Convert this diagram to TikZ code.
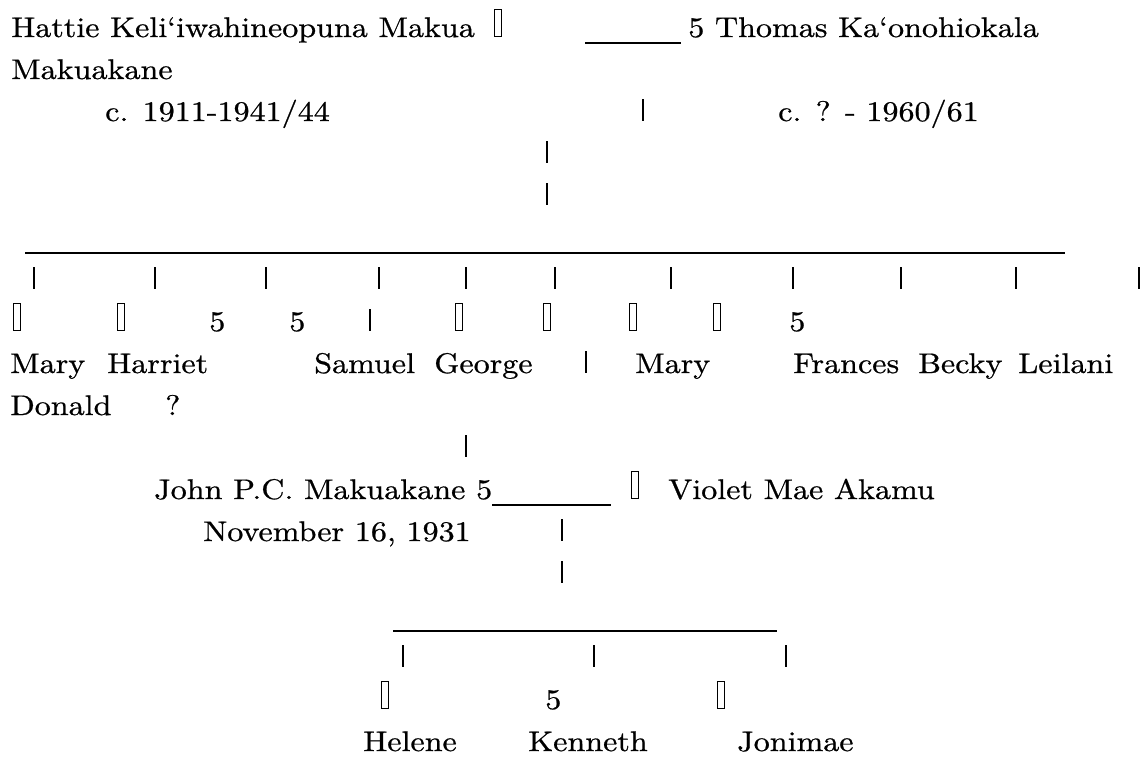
\documentclass[tikz,border=0pt]{standalone}
\usepackage{fontspec}
\setmainfont{lmroman10-regular}[Extension=.otf,FakeStretch=1.13,FakeBold=0.7]
\usepackage{tikz}

\tikzset{
  txt/.style={anchor=base west, inner sep=0pt, font=\fontsize{21.3}{25}\selectfont},
  nochar/.style={draw, line width=0.8pt, anchor=south, inner sep=0pt, minimum width=5.5pt, minimum height=20pt},
  bar/.style={line width=0.8pt},
  rule/.style={line width=1.4pt}
}

\begin{document}
\begin{tikzpicture}[x=0.75pt,y=-0.75pt]
      \useasboundingbox (0,0) rectangle (1145,761);

      % Parents
      \node[txt] (hattie) at (11,37) {Hattie Keli‘iwahineopuna Makua};
      \node[nochar] (hattiesym) at (498,37) {};
      \node[txt] (thomas) at (688,37) {5 Thomas Ka‘onohiokala};
      \node[txt] (makuakane) at (11,79) {Makuakane};
      \node[txt] (hattiedates) at (105,121) {c. 1911-1941/44};
      \node[txt] (thomasdates) at (778,121) {c. ? - 1960/61};
      \draw[rule] (585,43) -- (681,43);
      \draw[bar] (643,99) -- (643,121);
      \draw[bar] (547,141) -- (547,163);
      \draw[bar] (547,183) -- (547,205);

      % Children line
      \draw[rule] (25,253) -- (1065,253);
      \draw[bar] (34,267) -- (34,289);
      \draw[bar] (155,267) -- (155,289);
      \draw[bar] (266,267) -- (266,289);
      \draw[bar] (379,267) -- (379,289);
      \draw[bar] (466,267) -- (466,289);
      \draw[bar] (555,267) -- (555,289);
      \draw[bar] (671,267) -- (671,289);
      \draw[bar] (793,267) -- (793,289);
      \draw[bar] (901,267) -- (901,289);
      \draw[bar] (1016,267) -- (1016,289);
      \draw[bar] (1139,267) -- (1139,289);

      % Children symbols
      \node[nochar] (s1) at (17,331) {};
      \node[nochar] (s2) at (121,331) {};
      \node[txt] (s3) at (209,331) {5};
      \node[txt] (s4) at (289,331) {5};
      \draw[bar] (370,309) -- (370,331);
      \node[nochar] (s5) at (459,331) {};
      \node[nochar] (s6) at (547,331) {};
      \node[nochar] (s7) at (633,331) {};
      \node[nochar] (s8) at (717,331) {};
      \node[txt] (s9) at (789,331) {5};

      % Children names
      \node[txt] (mary) at (10,373) {Mary};
      \node[txt] (harriet) at (107,373) {Harriet};
      \node[txt] (samuel) at (314,373) {Samuel};
      \node[txt] (george) at (434,373) {George};
      \draw[bar] (586,351) -- (586,373);
      \node[txt] (mary2) at (635,373) {Mary};
      \node[txt] (frances) at (793,373) {Frances};
      \node[txt] (becky) at (918,373) {Becky};
      \node[txt] (leilani) at (1018,373) {Leilani};
      \node[txt] (donald) at (10,415) {Donald};
      \node[txt] (unknown) at (165,415) {?};
      \draw[bar] (466,435) -- (466,457);

      % John and Violet
      \node[txt] (john) at (154,499) {John P.C. Makuakane 5};
      \draw[rule] (john.base east) ++(0,6) -- (611,505);
      \node[nochar] (violetsym) at (635,499) {};
      \node[txt] (violet) at (668,499) {Violet Mae Akamu};
      \node[txt] (born) at (203,541) {November 16, 1931};
      \draw[bar] (562,519) -- (562,541);
      \draw[bar] (562,561) -- (562,583);

      % Grandchildren
      \draw[rule] (393,631) -- (777,631);
      \draw[bar] (403,645) -- (403,667);
      \draw[bar] (594,645) -- (594,667);
      \draw[bar] (786,645) -- (786,667);
      \node[nochar] (g1) at (385,709) {};
      \node[txt] (g2) at (545,709) {5};
      \node[nochar] (g3) at (721,709) {};
      \node[txt] (helene) at (363,751) {Helene};
      \node[txt] (kenneth) at (528,751) {Kenneth};
      \node[txt] (jonimae) at (737,751) {Jonimae};
    \end{tikzpicture}
\end{document}
